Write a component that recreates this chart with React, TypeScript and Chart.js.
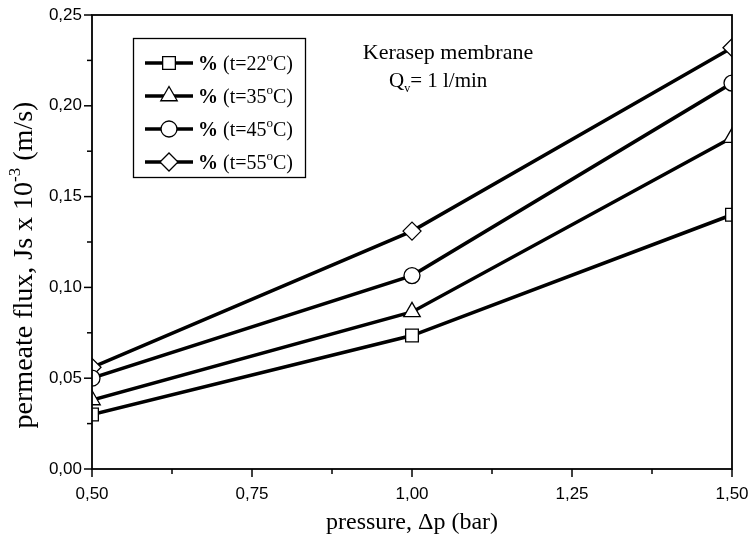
import React, { useEffect, useRef } from 'react';
import { Chart, registerables } from 'chart.js';
import { drawPoint } from 'chart.js/helpers';

Chart.register(...registerables);

// ---- data ----
const pressures = [0.5, 1.0, 1.5];
const seriesLabels = ['% (t=22°C)', '% (t=35°C)', '% (t=45°C)', '% (t=55°C)'];
const flux22 = [0.030, 0.0735, 0.140];
const flux35 = [0.038, 0.0865, 0.1825];
const flux45 = [0.050, 0.1065, 0.2125];
const flux55 = [0.056, 0.131, 0.232];
const pointStyles = ['rect', 'triangle', 'circle', 'rectRot'];
const pointRadii = [9, 9.5, 8, 9];
const xTitle = 'pressure, Δp (bar)';
const yTitleMain = 'permeate flux, Js x 10';
const yTitleSup = '-3';
const yTitleEnd = ' (m/s)';
const noteLine1 = 'Kerasep membrane';
const noteLine2Main = 'Q';
const noteLine2Sub = 'v';
const noteLine2End = '= 1 l/min';

const SERIF = '"Liberation Serif", "Times New Roman", serif';
const SANS = '"Liberation Sans", Arial, sans-serif';

type Part = { text: string; font: string; dy: number };

function drawParts(ctx: CanvasRenderingContext2D, parts: Part[], x: number, y: number, align: 'left' | 'center') {
  let total = 0;
  for (const p of parts) {
    ctx.font = p.font;
    total += ctx.measureText(p.text).width;
  }
  let cx = align === 'center' ? x - total / 2 : x;
  ctx.textAlign = 'left';
  ctx.textBaseline = 'alphabetic';
  for (const p of parts) {
    ctx.font = p.font;
    ctx.fillText(p.text, cx, y + p.dy);
    cx += ctx.measureText(p.text).width;
  }
}

function legendParts(label: string, size: number): Part[] {
  const [before, after] = label.split('°');
  return [
    { text: before.slice(0, 1), font: `bold ${size}px ${SERIF}`, dy: 0 },
    { text: before.slice(1), font: `${size}px ${SERIF}`, dy: 0 },
    { text: 'o', font: `${Math.round(size * 0.65)}px ${SERIF}`, dy: -size * 0.45 },
    { text: after ?? '', font: `${size}px ${SERIF}`, dy: 0 },
  ];
}

const decorPlugin = {
  id: 'decor',
  afterDraw(chart: any) {
    const { ctx, chartArea: a, scales } = chart;
    const xs = scales.x;
    const ys = scales.y;
    ctx.save();
    ctx.strokeStyle = '#000';
    ctx.fillStyle = '#000';

    // frame
    ctx.lineWidth = 1.8;
    ctx.strokeRect(a.left, a.top, a.right - a.left, a.bottom - a.top);

    // ticks
    ctx.lineWidth = 1.5;
    const xv = xs.ticks.map((t: any) => t.value);
    xv.forEach((v: number, i: number) => {
      const px = xs.getPixelForValue(v);
      ctx.beginPath();
      ctx.moveTo(px, a.bottom);
      ctx.lineTo(px, a.bottom + 8);
      ctx.stroke();
      if (i < xv.length - 1) {
        const mx = xs.getPixelForValue((v + xv[i + 1]) / 2);
        ctx.beginPath();
        ctx.moveTo(mx, a.bottom);
        ctx.lineTo(mx, a.bottom + 5);
        ctx.stroke();
      }
    });
    const yv = ys.ticks.map((t: any) => t.value);
    yv.forEach((v: number, i: number) => {
      const py = ys.getPixelForValue(v);
      ctx.beginPath();
      ctx.moveTo(a.left - 8, py);
      ctx.lineTo(a.left, py);
      ctx.stroke();
      if (i < yv.length - 1) {
        const my = ys.getPixelForValue((v + yv[i + 1]) / 2);
        ctx.beginPath();
        ctx.moveTo(a.left - 5, my);
        ctx.lineTo(a.left, my);
        ctx.stroke();
      }
    });

    // axis titles
    drawParts(ctx, [{ text: xTitle, font: `24px ${SERIF}`, dy: 0 }], (a.left + a.right) / 2, 529, 'center');
    ctx.save();
    ctx.translate(32, 265);
    ctx.rotate(-Math.PI / 2);
    drawParts(
      ctx,
      [
        { text: yTitleMain, font: `28px ${SERIF}`, dy: 0 },
        { text: yTitleSup, font: `17px ${SERIF}`, dy: -12 },
        { text: yTitleEnd, font: `28px ${SERIF}`, dy: 0 },
      ],
      0,
      0,
      'center'
    );
    ctx.restore();

    // annotation
    drawParts(ctx, [{ text: noteLine1, font: `22px ${SERIF}`, dy: 0 }], 448, 59, 'center');
    drawParts(
      ctx,
      [
        { text: noteLine2Main, font: `21px ${SERIF}`, dy: 0 },
        { text: noteLine2Sub, font: `12px ${SERIF}`, dy: 5 },
        { text: noteLine2End, font: `21px ${SERIF}`, dy: 0 },
      ],
      389,
      87,
      'left'
    );

    // legend
    ctx.lineWidth = 1.3;
    ctx.strokeRect(133.5, 38.5, 172, 139);
    chart.data.datasets.forEach((ds: any, i: number) => {
      const ry = 63 + i * 33;
      ctx.lineWidth = 3.5;
      ctx.strokeStyle = '#000';
      ctx.beginPath();
      ctx.moveTo(145, ry);
      ctx.lineTo(193, ry);
      ctx.stroke();
      ctx.fillStyle = '#fff';
      ctx.lineWidth = 1.3;
      drawPoint(ctx, { pointStyle: ds.pointStyle, radius: ds.pointRadius, rotation: 0, borderWidth: 1.3 }, 169, ry);
      ctx.fillStyle = '#000';
      drawParts(ctx, legendParts(ds.label, 20), 198, ry + 7, 'left');
    });

    ctx.restore();
  },
};

const seriesData = [flux22, flux35, flux45, flux55];

export default function App() {
  const canvasRef = useRef<HTMLCanvasElement | null>(null);

  useEffect(() => {
    if (!canvasRef.current) return;
    const datasets = seriesData.map((vals, i) => ({
      label: seriesLabels[i],
      data: pressures.map((p, j) => ({ x: p, y: vals[j] })),
      borderColor: '#000',
      borderWidth: 3.5,
      pointStyle: pointStyles[i],
      pointRadius: pointRadii[i],
      pointBackgroundColor: '#fff',
      pointBorderColor: '#000',
      pointBorderWidth: 1.3,
      tension: 0,
      fill: false,
    }));
    const chart = new Chart(canvasRef.current, {
      type: 'line',
      data: { datasets },
      plugins: [decorPlugin],
      options: {
        animation: false,
        responsive: false,
        events: [],
        layout: { padding: { top: 15, right: 19, left: 0, bottom: 0 } },
        plugins: {
          legend: { display: false },
          tooltip: { enabled: false },
        },
        scales: {
          x: {
            type: 'linear',
            min: 0.5,
            max: 1.5,
            afterFit: (s: any) => {
              s.height = 73;
              s.paddingLeft = 0;
              s.paddingRight = 0;
            },
            ticks: {
              stepSize: 0.25,
              autoSkip: false,
              maxRotation: 0,
              padding: 15,
              color: '#000',
              font: { family: SANS, size: 17 },
              callback: (v: any) => Number(v).toFixed(2).replace('.', ','),
            },
            grid: { display: false, drawTicks: false },
            border: { display: false },
          },
          y: {
            type: 'linear',
            min: 0,
            max: 0.25,
            afterFit: (s: any) => {
              s.width = 92;
              s.paddingTop = 0;
              s.paddingBottom = 0;
            },
            ticks: {
              stepSize: 0.05,
              padding: 10,
              color: '#000',
              font: { family: SANS, size: 17 },
              callback: (v: any) => Number(v).toFixed(2).replace('.', ','),
            },
            grid: { display: false, drawTicks: false },
            border: { display: false },
          },
        },
      },
    });
    return () => chart.destroy();
  }, []);

  return (
    <div style={{ position: 'absolute', left: 0, top: 0, width: 751, height: 542, background: '#fff' }}>
      <canvas ref={canvasRef} width={751} height={542} style={{ display: 'block' }} />
    </div>
  );
}
